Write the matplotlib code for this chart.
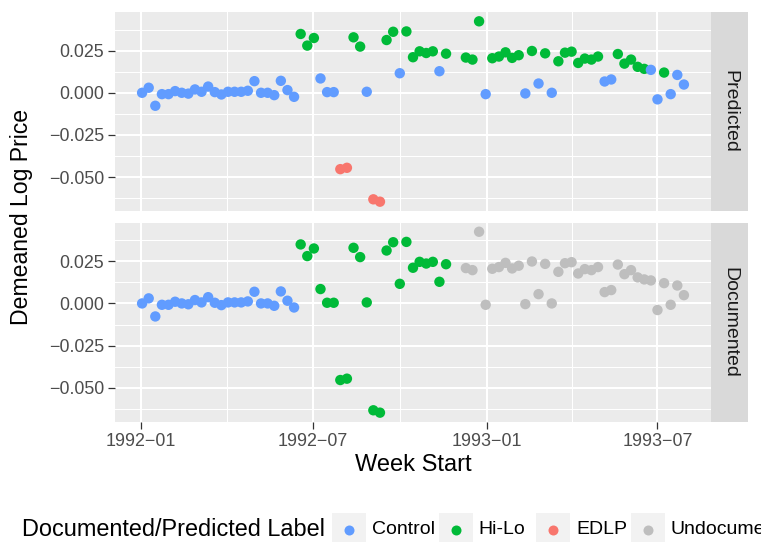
import matplotlib
matplotlib.use('Agg')
import matplotlib.pyplot as plt
import matplotlib.dates as mdates
import numpy as np
import pandas as pd
from matplotlib.patches import Rectangle
from matplotlib.lines import Line2D

plt.rcParams['font.family'] = ['Liberation Sans', 'DejaVu Sans']

# ---------------- data ----------------
first_week = "1992-01-02"
n_weeks = 83
missing_weeks = [47, 48]

values = [
    0.0000, 0.0030, -0.0077, -0.0008, -0.0008, 0.0010, 0.0000, -0.0005, 0.0020, 0.0006,
    0.0037, 0.0004, -0.0010, 0.0006, 0.0006, 0.0006, 0.0012, 0.0069, 0.0000, 0.0000,
    -0.0014, 0.0071, 0.0016, -0.0024, 0.0349, 0.0280, 0.0325, 0.0085, 0.0004, 0.0004,
    -0.0453, -0.0445, 0.0329, 0.0274, 0.0006, -0.0632, -0.0646, 0.0313, 0.0362, 0.0116,
    0.0364, 0.0211, 0.0246, 0.0236, 0.0246, 0.0128, 0.0232,
    0.0209, 0.0197, 0.0424, -0.0008, 0.0205, 0.0215, 0.0240, 0.0207, 0.0223, -0.0004,
    0.0248, 0.0055, 0.0234, 0.0000, 0.0187, 0.0238, 0.0244, 0.0177, 0.0203, 0.0197,
    0.0215, 0.0067, 0.0079, 0.0230, 0.0173, 0.0197, 0.0154, 0.0142, 0.0136, -0.0039,
    0.0120, -0.0008, 0.0106, 0.0049,
]

predicted = (
    ["Control"] * 24
    + ["Hi-Lo"] * 3 + ["Control"] * 3 + ["EDLP"] * 2 + ["Hi-Lo"] * 2 + ["Control"]
    + ["EDLP"] * 2 + ["Hi-Lo"] * 2 + ["Control"] + ["Hi-Lo"] * 5 + ["Control"] + ["Hi-Lo"]
    + ["Hi-Lo"] * 3 + ["Control"] + ["Hi-Lo"] * 5 + ["Control"] + ["Hi-Lo"] + ["Control"]
    + ["Hi-Lo"] + ["Control"] + ["Hi-Lo"] * 7 + ["Control"] * 2 + ["Hi-Lo"] * 5
    + ["Control"] * 2 + ["Hi-Lo"] + ["Control"] * 3
)
documented = ["Control"] * 24 + ["Hi-Lo"] * 23 + ["Undocumented"] * 34

legend_labels = ["Control", "Hi-Lo", "EDLP", "Undocumented"]
colors = {"Control": "#619CFF", "Hi-Lo": "#00BA38", "EDLP": "#F8766D", "Undocumented": "#BEBEBE"}

panels = ["Predicted", "Documented"]
y_ticks = [-0.050, -0.025, 0.000, 0.025]
y_minor = [-0.0625, -0.0375, -0.0125, 0.0125, 0.0375]
x_ticks = ["1992-01-01", "1992-07-01", "1993-01-01", "1993-07-01"]
x_minor = ["1992-04-01", "1992-10-01", "1993-04-01"]

all_weeks = pd.date_range(first_week, periods=n_weeks, freq="7D")
dates = [d for i, d in enumerate(all_weeks) if i not in missing_weeks]
df = pd.DataFrame({"date": dates, "value": values,
                   "Predicted": predicted, "Documented": documented})

# ---------------- layout ----------------
W, H = 761, 542
fig = plt.figure(figsize=(W / 100, H / 100), dpi=100)

def px_axes(x0, y0, x1, y1):
    return fig.add_axes([x0 / W, 1 - y1 / H, (x1 - x0) / W, (y1 - y0) / H])

panel_box = [(115, 12.3, 711, 210.7), (115, 222.7, 711, 421.7)]
strip_x = (711, 748)

xmin = df["date"].min()
xmax = df["date"].max()
xr = xmax - xmin
xlim = (mdates.date2num(xmin - xr * 0.05), mdates.date2num(xmax + xr * 0.05))
ymin, ymax = min(values), max(values)
yr = ymax - ymin
ylim = (ymin - yr * 0.05, ymax + yr * 0.05)

grey30 = "#4D4D4D"
for k, (name, box) in enumerate(zip(panels, panel_box)):
    ax = px_axes(*box)
    ax.set_facecolor("#EBEBEB")
    for s in ax.spines.values():
        s.set_visible(False)
    ax.set_xlim(xlim)
    ax.set_ylim(ylim)
    for yv in y_minor:
        ax.axhline(yv, color="white", lw=0.75, zorder=0.5)
    for yv in y_ticks:
        ax.axhline(yv, color="white", lw=1.5, zorder=0.6)
    for xv in x_minor:
        ax.axvline(mdates.date2num(pd.Timestamp(xv)), color="white", lw=0.75, zorder=0.5)
    for xv in x_ticks:
        ax.axvline(mdates.date2num(pd.Timestamp(xv)), color="white", lw=1.5, zorder=0.6)

    cols = [colors[c] for c in df[name]]
    ax.scatter(mdates.date2num(df["date"]), df["value"], c=cols, s=56,
               linewidths=0, zorder=3)

    ax.set_yticks(y_ticks)
    ax.set_yticklabels([f"{v:.3f}".replace("-", "\u2212") for v in y_ticks],
                       fontsize=12.9, color=grey30)
    ax.tick_params(axis="y", length=5, width=0.9, color="#333333", pad=3)
    xt = [mdates.date2num(pd.Timestamp(x)) for x in x_ticks]
    ax.set_xticks(xt)
    if k == 1:
        ax.set_xticklabels([pd.Timestamp(x).strftime("%Y-%m").replace("-", "\u2212") for x in x_ticks],
                           fontsize=12.9, color=grey30)
        ax.tick_params(axis="x", length=5, width=0.9, color="#333333", pad=3)
    else:
        ax.tick_params(axis="x", length=0, labelbottom=False)

    sx = px_axes(strip_x[0], box[1], strip_x[1], box[3])
    sx.set_facecolor("#D9D9D9")
    for s in sx.spines.values():
        s.set_visible(False)
    sx.set_xticks([])
    sx.set_yticks([])
    sx.text(0.5, 0.5, name, rotation=270, ha="center", va="center",
            fontsize=14, color="#1A1A1A", transform=sx.transAxes)

# axis titles
fig.text(413 / W, 1 - 465 / H, "Week Start", ha="center", va="center", fontsize=17)
fig.text(22 / W, 1 - 216.5 / H, "Demeaned Log Price", ha="center", va="center",
         rotation=90, fontsize=16.6)

# legend (manual, clipped at figure edge like the reference)
ly = 530
fig.text(21.5 / W, 1 - ly / H, "Documented/Predicted Label", ha="left", va="center",
         fontsize=16.9)
key_x = [332, 439, 536, 631]
txt_x = [372, 478, 576, 670]
for lab, kx, tx in zip(legend_labels, key_x, txt_x):
    fig.add_artist(Rectangle((kx / W, 1 - 548 / H), 34 / W, 35 / H,
                             transform=fig.transFigure, facecolor="#F2F2F2",
                             edgecolor="none"))
    fig.add_artist(Line2D([(kx + 17) / W], [1 - ly / H], marker="o", markersize=7.2,
                          color=colors[lab], markeredgewidth=0, linestyle="none",
                          transform=fig.transFigure))
    fig.text(tx / W, 1 - ly / H, lab, ha="left", va="center", fontsize=14)

fig.savefig("out.png", dpi=100)
